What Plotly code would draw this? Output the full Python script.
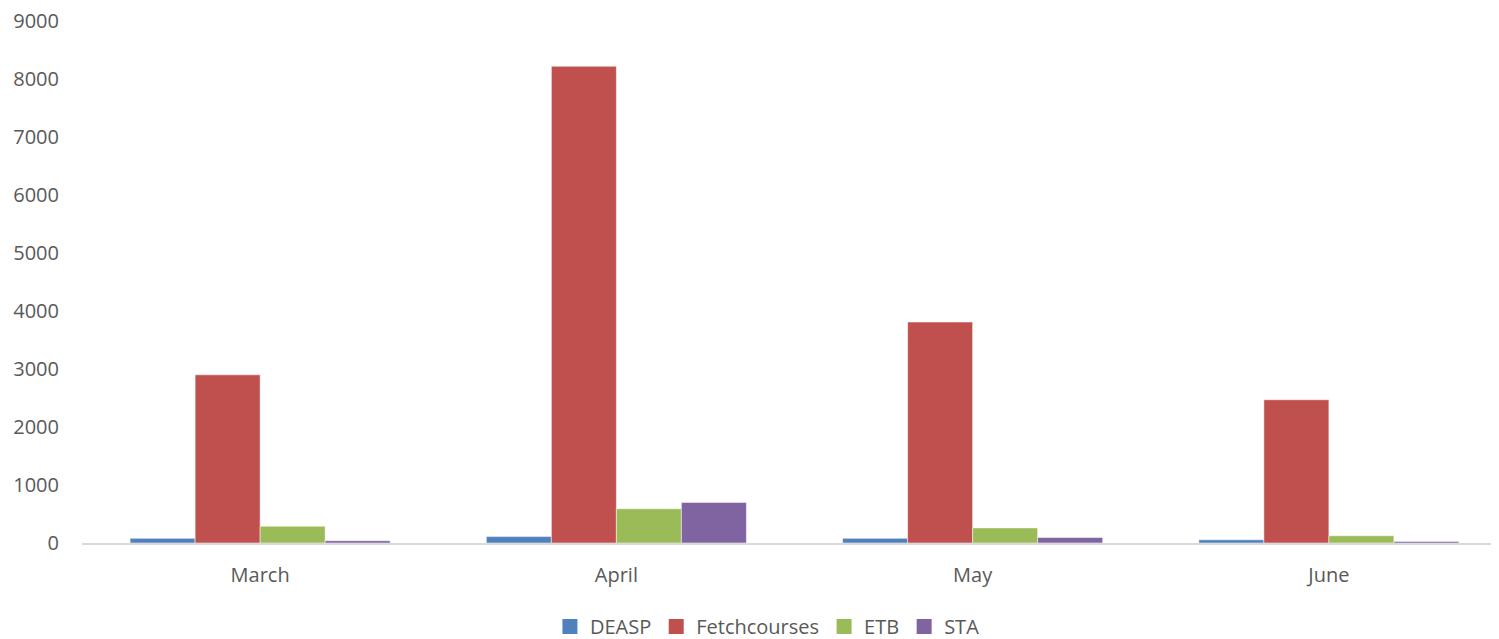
import plotly.graph_objects as go

months = ["March", "April", "May", "June"]
deasp = [80, 110, 80, 55]
fetchcourses = [2900, 8220, 3810, 2470]
etb = [290, 590, 260, 125]
sta = [40, 700, 95, 28]

series = [
    ("DEASP", deasp, "#4F81BD"),
    ("Fetchcourses", fetchcourses, "#C0504D"),
    ("ETB", etb, "#9BBB59"),
    ("STA", sta, "#8064A2"),
]

fig = go.Figure()
for name, vals, col in series:
    fig.add_trace(go.Bar(
        name=name, x=months, y=vals, showlegend=False,
        marker=dict(color=col, line=dict(color="rgba(255,255,255,0.5)", width=1)),
    ))
# legend entries with larger square swatches
for name, vals, col in series:
    fig.add_trace(go.Scatter(
        name=name, x=[None], y=[None], mode="markers",
        marker=dict(symbol="square", size=15, color=col),
        showlegend=True, hoverinfo="skip",
    ))

font_fam = "Open Sans, Liberation Sans, sans-serif"
fig.update_layout(
    width=1499, height=639,
    margin=dict(l=74, r=0, t=13, b=104, autoexpand=False),
    paper_bgcolor="white", plot_bgcolor="white",
    barmode="group", bargap=0.27, bargroupgap=0,
    font=dict(family=font_fam, size=20, color="#595959"),
    xaxis=dict(range=[-0.5, 3.5], showline=True, linecolor="#d9d9d9", linewidth=2,
               ticks="", showgrid=False, tickfont=dict(size=20, color="#595959"),
               ticklabelstandoff=13, automargin=False),
    yaxis=dict(range=[0, 9000], dtick=1000, showgrid=False, zeroline=False,
               showline=False, ticks="", tickfont=dict(size=20, color="#595959"),
               ticklabelstandoff=22, tickformat="d", ticklabeloverflow="allow",
               automargin=False),
    legend=dict(orientation="h", x=0.481, xanchor="center", y=-0.16, yanchor="middle",
                font=dict(size=20, color="#595959"), itemwidth=30,
                traceorder="normal", tracegroupgap=0),
    showlegend=True,
)

fig.write_html("out.html")
